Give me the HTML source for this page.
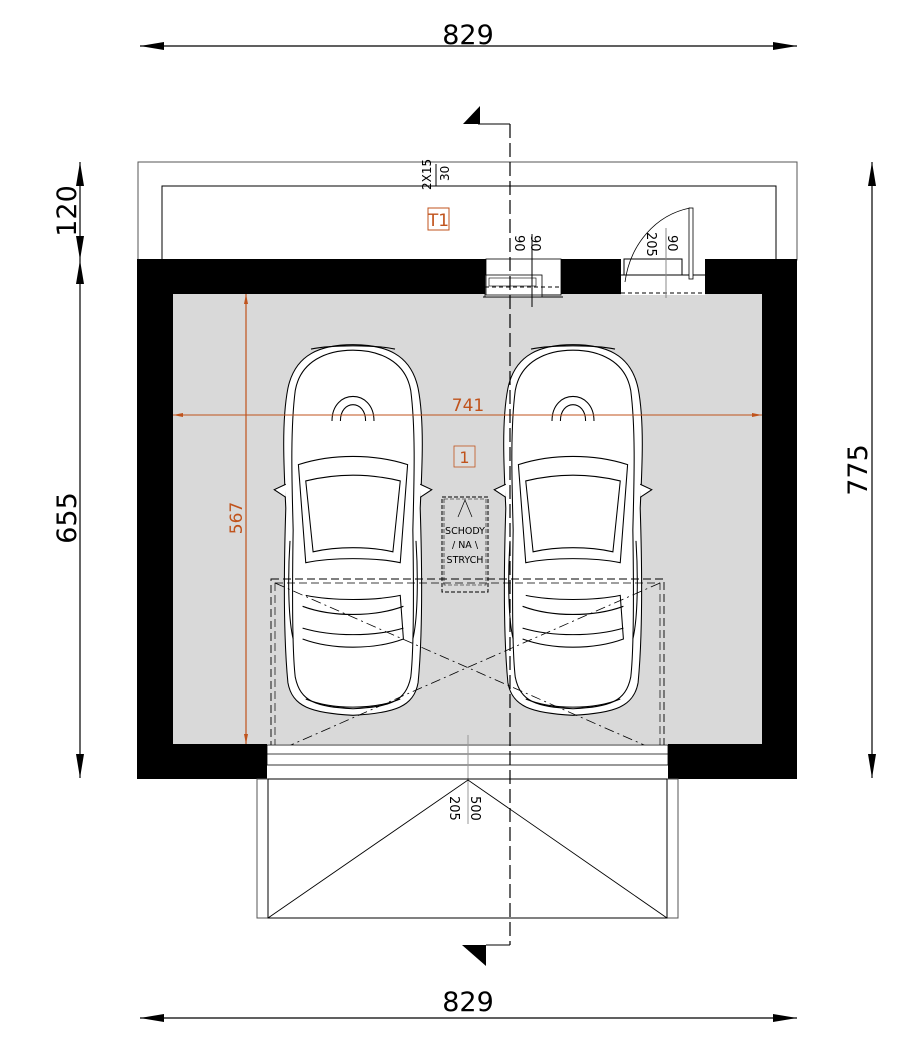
<!DOCTYPE html>
<html><head><meta charset="utf-8"><style>
html,body{margin:0;padding:0;background:#fff;}
svg{display:block;font-family:"DejaVu Sans","Liberation Sans",sans-serif;}
</style></head><body>
<svg width="922" height="1050" viewBox="0 0 922 1050" xmlns="http://www.w3.org/2000/svg">
<defs>
<marker id="a" viewBox="0 0 24 8" refX="24" refY="4" markerWidth="24" markerHeight="8" markerUnits="userSpaceOnUse" orient="auto-start-reverse"><path d="M0,0 L24,4 L0,8 Z" fill="#000"/></marker>
<marker id="o" viewBox="0 0 10 4" refX="10" refY="2" markerWidth="10" markerHeight="4" markerUnits="userSpaceOnUse" orient="auto-start-reverse"><path d="M0,0 L10,2 L0,4 Z" fill="#c0531c"/></marker>
<g id="car" fill="#fff" stroke="#000" stroke-width="1">
<path d="M0,-170 C30,-170 55,-162 62,-130 C68,-100 66,-60 64,-20 C66,40 66,100 62,140 C58,162 40,168 0,170 C-40,168 -58,162 -62,140 C-66,100 -66,40 -64,-20 C-66,-60 -68,-100 -62,-130 C-55,-162 -30,-170 0,-170 Z"/>
<path d="M0,-165 C25,-165 50,-155 55,-128 C60,-90 58,-40 57,0 C58,60 58,110 55,135 C50,158 35,162 0,164 C-35,162 -50,158 -55,135 C-58,110 -58,60 -57,0 C-58,-40 -60,-90 -55,-128 C-50,-155 -25,-165 0,-165 Z" fill="none"/>
<path d="M-52,-60 C-20,-70 20,-70 52,-60 L45,30 C20,25 -20,25 -45,30 Z" fill="none"/>
<path d="M-45,-45 C-15,-52 15,-52 45,-45 L38,20 C15,15 -15,15 -38,20 Z" fill="none"/>
<path d="M-48,100 C-20,110 20,110 48,100 L45,60 C20,65 -20,65 -45,60" fill="none"/>
<path d="M-48,70 C-20,80 20,80 48,70" fill="none"/>
<path d="M-48,90 C-20,98 20,98 48,90" fill="none"/>
<path d="M-20,-100 C-20,-130 20,-130 20,-100 M-12,-100 C-12,-120 12,-120 12,-100" fill="none"/>
<path d="M-64,-42 L-75,-37 L-64,-30 M64,-42 L75,-37 L64,-30" fill="#fff"/>
<path d="M-57,100 C-62,80 -62,40 -60,10 M57,100 C62,80 62,40 60,10" fill="none"/>
<path d="M-40,-166 C-20,-170 20,-170 40,-166 M-45,155 C-20,165 20,165 45,155" fill="none"/>
</g>
</defs>

<line x1="140" y1="46" x2="797" y2="46" stroke="#000" stroke-width="1.2" marker-start="url(#a)" marker-end="url(#a)"/>
<text x="468" y="44" font-size="27" text-anchor="middle">829</text>
<line x1="140" y1="1018" x2="797" y2="1018" stroke="#000" stroke-width="1.2" marker-start="url(#a)" marker-end="url(#a)"/>
<text x="468" y="1011" font-size="27" text-anchor="middle">829</text>
<line x1="80" y1="162" x2="80" y2="260" stroke="#000" stroke-width="1.2" marker-start="url(#a)" marker-end="url(#a)"/>
<line x1="80" y1="260" x2="80" y2="778" stroke="#000" stroke-width="1.2" marker-start="url(#a)" marker-end="url(#a)"/>
<text transform="translate(76,211) rotate(-90)" font-size="27" text-anchor="middle">120</text>
<text transform="translate(76,518) rotate(-90)" font-size="27" text-anchor="middle">655</text>
<line x1="872" y1="162" x2="872" y2="778" stroke="#000" stroke-width="1.2" marker-start="url(#a)" marker-end="url(#a)"/>
<text transform="translate(867,470) rotate(-90)" font-size="27" text-anchor="middle">775</text>

<rect x="138" y="162" width="659" height="98" fill="none" stroke="#555" stroke-width="1"/>
<polyline points="162,260 162,186 776,186 776,260" fill="none" stroke="#000" stroke-width="1"/>
<text transform="translate(431,190) rotate(-90)" font-size="12">2X15</text>
<text transform="translate(449,181) rotate(-90)" font-size="12">30</text>
<line x1="436" y1="164" x2="436" y2="186" stroke="#000"/>
<rect x="428" y="208" width="21" height="22" fill="none" stroke="#c0531c"/>
<text x="438.5" y="226" font-size="17" fill="#c0531c" text-anchor="middle">T1</text>

<rect x="137" y="259" width="660" height="520" fill="#000"/>
<rect x="173" y="294" width="589" height="450" fill="#d9d9d9"/>
<rect x="267" y="744" width="401" height="36" fill="#fff"/>
<rect x="486" y="259" width="75" height="35" fill="#fff"/>
<rect x="485" y="275" width="57" height="22" fill="#fff" stroke="#000" stroke-width="0.8"/>
<rect x="489" y="278" width="47" height="8" fill="none" stroke="#000" stroke-width="0.6"/>
<line x1="483" y1="297" x2="563" y2="297" stroke="#000"/>
<rect x="486" y="259" width="75" height="36" fill="none" stroke="#000" stroke-width="0.8"/>
<line x1="485" y1="287" x2="563" y2="287" stroke="#000" stroke-dasharray="4,3"/>
<text transform="translate(515,235) rotate(90)" font-size="13">90</text>
<text transform="translate(531,235) rotate(90)" font-size="13">90</text>
<line x1="532" y1="234" x2="532" y2="307" stroke="#000"/>
<rect x="621" y="259" width="84" height="36" fill="#fff"/>
<rect x="624" y="259" width="58" height="16" fill="#fff" stroke="#000"/>
<line x1="621" y1="275" x2="705" y2="275" stroke="#000"/>
<line x1="621" y1="293" x2="705" y2="293" stroke="#000" stroke-dasharray="4,3"/>
<path d="M625,282 C630,245 655,215 690,208" fill="none" stroke="#000" stroke-width="0.8"/>
<rect x="689" y="208" width="4" height="71" fill="#fff" stroke="#000" stroke-width="0.8"/>
<text transform="translate(647,232) rotate(90)" font-size="13">205</text>
<text transform="translate(668,235) rotate(90)" font-size="13">90</text>
<line x1="666" y1="228" x2="666" y2="298" stroke="#888"/>

<use href="#car" transform="translate(353,530) scale(1.05,1.09)"/>
<use href="#car" transform="translate(573,530) scale(1.05,1.09)"/>

<line x1="173" y1="415" x2="762" y2="415" stroke="#c0531c" stroke-width="1" marker-start="url(#o)" marker-end="url(#o)"/>
<text x="468" y="411" font-size="17" fill="#c0531c" text-anchor="middle">741</text>
<line x1="246" y1="294" x2="246" y2="744" stroke="#c0531c" stroke-width="1.2" marker-start="url(#o)" marker-end="url(#o)"/>
<text transform="translate(242,518) rotate(-90)" font-size="17" fill="#c0531c" text-anchor="middle">567</text>
<rect x="454" y="446" width="21" height="21" fill="#ddd" stroke="#c0531c" stroke-width="0.8"/>
<text x="464.5" y="463" font-size="16" fill="#c0531c" text-anchor="middle">1</text>

<rect x="442" y="497" width="46" height="95" fill="none" stroke="#000" stroke-dasharray="4,2"/>
<rect x="444" y="499" width="42" height="86" fill="none" stroke="#000" stroke-dasharray="4,2" stroke-width="0.6"/>
<path d="M458,517 L465,500 L472,517" fill="none" stroke="#000" stroke-width="0.7"/>
<text x="465" y="534" font-size="9.5" text-anchor="middle">SCHODY</text>
<text x="465" y="548" font-size="9.5" text-anchor="middle">/ NA \</text>
<text x="465" y="563" font-size="9.5" text-anchor="middle">STRYCH</text>

<rect x="271" y="579" width="393" height="172" fill="none" stroke="#000" stroke-dasharray="8,4" stroke-width="0.9"/>
<rect x="275" y="583" width="385" height="165" fill="none" stroke="#000" stroke-dasharray="8,4" stroke-width="0.7"/>
<line x1="275" y1="583" x2="660" y2="752" stroke="#000" stroke-dasharray="10,4,2,4" stroke-width="0.8"/>
<line x1="660" y1="583" x2="275" y2="752" stroke="#000" stroke-dasharray="10,4,2,4" stroke-width="0.8"/>
<rect x="267" y="745" width="401" height="20" fill="#fff" stroke="#000" stroke-width="0.8"/>
<line x1="267" y1="754" x2="668" y2="754" stroke="#000" stroke-width="0.8"/>
<line x1="468" y1="735" x2="468" y2="824" stroke="#999"/>

<rect x="257" y="779" width="421" height="139" fill="none" stroke="#555"/>
<rect x="268" y="779" width="399" height="139" fill="none" stroke="#000"/>
<polyline points="268,918 468,780 667,918" fill="none" stroke="#000" stroke-width="0.9"/>
<text transform="translate(471,796) rotate(90)" font-size="13">500</text>
<text transform="translate(450,796) rotate(90)" font-size="13">205</text>

<line x1="510" y1="124" x2="510" y2="945" stroke="#000" stroke-width="1.2" stroke-dasharray="14,5"/>
<polyline points="478,124 510,124" fill="none" stroke="#000"/>
<path d="M463,124 L480,106 L480,124 Z" fill="#000"/>
<polyline points="486,945 510,945" fill="none" stroke="#000"/>
<path d="M462,945 L486,945 L486,966 Z" fill="#000"/>
</svg>
</body></html>
